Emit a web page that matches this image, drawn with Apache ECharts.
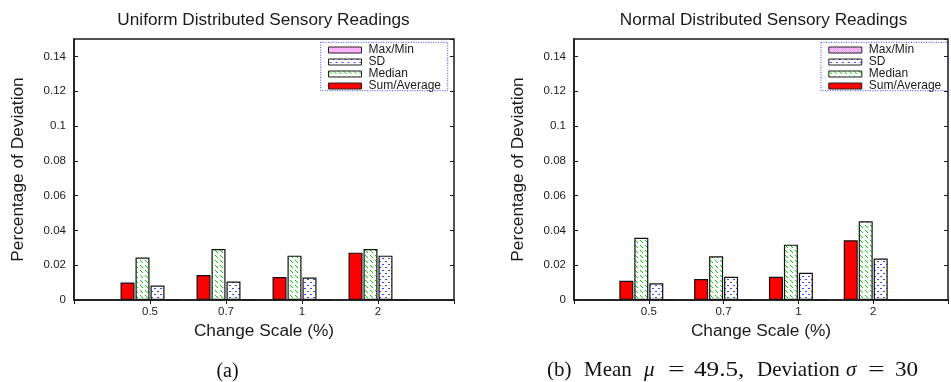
<!DOCTYPE html>
<html>
<head>
<meta charset="utf-8">
<script src="https://cdn.jsdelivr.net/npm/echarts@6/dist/echarts.min.js"></script>
<style>
  html, body { margin: 0; padding: 0; background: #fff; }
  #chart { width: 951px; height: 382px; }
</style>
</head>
<body>
<div id="chart"></div>
<script>
// Change scales on the x axis
const categories = ['0.5', '0.7', '1', '2'];

// Uniform distributed sensory readings
const uniformSumAvg = [0.0100, 0.0144, 0.0132, 0.0272];
const uniformMedian = [0.0244, 0.0293, 0.0255, 0.0293];
const uniformSD     = [0.0083, 0.0106, 0.0129, 0.0255];
const uniformMaxMin = [0, 0, 0, 0];

// Normal distributed sensory readings
const normalSumAvg = [0.0111, 0.0121, 0.0134, 0.0343];
const normalMedian = [0.0358, 0.0251, 0.0318, 0.0452];
const normalSD     = [0.0096, 0.0134, 0.0157, 0.0238];
const normalMaxMin = [0, 0, 0, 0];

const seriesNames = ['Sum/Average', 'Median', 'SD', 'Max/Min'];
const legendOrder = ['Max/Min', 'SD', 'Median', 'Sum/Average'];
const panelTitles = ['Uniform Distributed Sensory Readings', 'Normal Distributed Sensory Readings'];

const SANS = '"Liberation Sans", Arial, Helvetica, sans-serif';
const SERIF = '"Liberation Serif", "Times New Roman", serif';
const INK = '#1a1a1a';

// Small tiles used as fill patterns for the hatched bars
function makeTile(size, color, pixels) {
  const c = document.createElement('canvas');
  c.width = size; c.height = size;
  const g = c.getContext('2d');
  g.fillStyle = '#ffffff';
  g.fillRect(0, 0, size, size);
  g.fillStyle = color;
  pixels.forEach(p => g.fillRect(p[0], p[1], p[2] || 1, p[3] || 1));
  return { image: c, repeat: 'repeat' };
}
// dashed "\" hatching
const greenHatch = makeTile(5, '#00d400', [[0,0],[1,1],[2,2]]);
// dotted "/" hatching
const blueDots = makeTile(6, '#2f4bff', [[4,0,2,1],[1,3,2,1]]);
// fine cross-hatching
const magentaCross = makeTile(4, '#ff66ff', [[0,0],[2,0],[1,1],[3,1],[0,2],[2,2],[1,3],[3,3]]);

const fills = {
  'Sum/Average': '#ff0000',
  'Median': greenHatch,
  'SD': blueDots,
  'Max/Min': magentaCross
};

const padded = ['', ...categories, ''];
const pad = arr => ['-', ...arr, '-'];

const panels = [
  { left: 74, legendLeft: 328, legendBox: [320.7, 42.3, 127, 48.4],
    data: { 'Sum/Average': uniformSumAvg, 'Median': uniformMedian, 'SD': uniformSD, 'Max/Min': uniformMaxMin } },
  { left: 574, legendLeft: 828.3, legendBox: [821, 42.3, 127, 48.4],
    data: { 'Sum/Average': normalSumAvg, 'Median': normalMedian, 'SD': normalSD, 'Max/Min': normalMaxMin } }
];

const GRID_TOP = 39, GRID_H = 261, GRID_W = 380;

const grid = [], xAxis = [], yAxis = [], series = [], legend = [], title = [], graphic = [];

panels.forEach((p, i) => {
  grid.push({
    left: p.left, top: GRID_TOP, width: GRID_W, height: GRID_H,
    show: true, borderColor: INK, borderWidth: 1.5, backgroundColor: 'transparent'
  });
  // bottom category axis
  xAxis.push({
    type: 'category', gridIndex: i, data: padded, boundaryGap: false,
    name: 'Change Scale (%)', nameLocation: 'middle', nameGap: 21,
    nameTextStyle: { fontFamily: SANS, fontSize: 17.3, color: INK },
    axisLine: { show: true, lineStyle: { color: INK, width: 1.5 } },
    axisTick: { show: false },
    axisLabel: { fontFamily: SANS, fontSize: 11.5, color: INK, margin: 6, interval: 0 },
    splitLine: { show: false }, z: 5
  });
  // mirrored ticks along the top border
  xAxis.push({
    type: 'category', gridIndex: i, data: padded, boundaryGap: false, position: 'top',
    axisLine: { show: false },
    axisTick: { show: true, inside: true, length: 4, interval: 0,
                lineStyle: { color: INK, width: 1 } },
    axisLabel: { show: false }, splitLine: { show: false }
  });
  yAxis.push({
    type: 'value', gridIndex: i, min: 0, max: 0.15, interval: 0.02,
    name: 'Percentage of Deviation', nameLocation: 'middle', nameGap: 47,
    nameTextStyle: { fontFamily: SANS, fontSize: 17.3, color: INK },
    axisLine: { show: true, lineStyle: { color: INK, width: 1.5 } },
    axisTick: { show: true, inside: true, length: 4, lineStyle: { color: INK, width: 1 } },
    axisLabel: { fontFamily: SANS, fontSize: 11.5, color: INK, margin: 8, showMaxLabel: false,
                 formatter: v => String(Number(v.toFixed(2))) },
    splitLine: { show: false }, z: 5
  });
  // mirrored ticks along the right border
  yAxis.push({
    type: 'value', gridIndex: i, min: 0, max: 0.15, interval: 0.02, position: 'right',
    axisLine: { show: false },
    axisTick: { show: true, inside: true, length: 4, lineStyle: { color: INK, width: 1 } },
    axisLabel: { show: false }, splitLine: { show: false }
  });

  seriesNames.forEach(name => {
    series.push({
      name, type: 'bar', xAxisIndex: i * 2, yAxisIndex: i * 2,
      data: pad(p.data[name]),
      barWidth: 14, barGap: '7%',
      itemStyle: { color: fills[name], borderColor: '#111', borderWidth: 1.2 },
      emphasis: { disabled: true },
      animation: false
    });
  });

  legend.push({
    data: legendOrder.map(n => ({ name: n, itemStyle: { color: fills[n] } })),
    orient: 'vertical', left: p.legendLeft, top: 44,
    padding: 0, itemGap: 0, itemWidth: 33, itemHeight: 6, icon: 'rect',
    selectedMode: false,
    itemStyle: { borderColor: '#222', borderWidth: 1 },
    textStyle: { fontFamily: SANS, fontSize: 12, color: INK, padding: [0, 0, 0, 2], lineHeight: 12 }
  });

  title.push({
    text: panelTitles[i], left: p.left + GRID_W / 2 - 0.5, top: 12, textAlign: 'center', padding: 0,
    textStyle: { fontFamily: SANS, fontSize: 17.2, fontWeight: 'normal', color: INK }
  });

  const b = p.legendBox;
  graphic.push({
    type: 'rect', shape: { x: b[0], y: b[1], width: b[2], height: b[3] },
    style: { fill: null, stroke: '#3c3cff', lineWidth: 1, lineDash: [1, 1.5] }, z: 10
  });
});

// Figure captions below each panel
graphic.push({
  type: 'text', x: 227.5, y: 371.5,
  style: { text: '(a)', font: '20px ' + SERIF, fill: '#111', align: 'center', verticalAlign: 'middle' }
});
// LaTeX-style caption: words and math symbols set with their own spacing and width
const captionB = [
  ['(b)', 547, false, 1], ['Mean', 584, false, 1], ['μ', 644, true, 1], ['=', 668, false, 1.4],
  ['49.5,', 694, false, 1.2], ['Deviation', 757, false, 1], ['σ', 846, true, 1], ['=', 868, false, 1.4],
  ['30', 895, false, 1.1]
];
graphic.push({
  type: 'group',
  children: captionB.map(([t, x, it, sx]) => ({
    type: 'text', x, y: 370, scaleX: sx,
    style: {
      text: t, font: (it ? 'italic ' : '') + '21px ' + SERIF, fill: '#111',
      align: 'left', verticalAlign: 'middle'
    }
  }))
});

const chart = echarts.init(document.getElementById('chart'), null, { renderer: 'canvas' });
chart.setOption({
  backgroundColor: '#ffffff',
  animation: false,
  title, grid, xAxis, yAxis, series, legend, graphic
});
</script>
</body>
</html>
